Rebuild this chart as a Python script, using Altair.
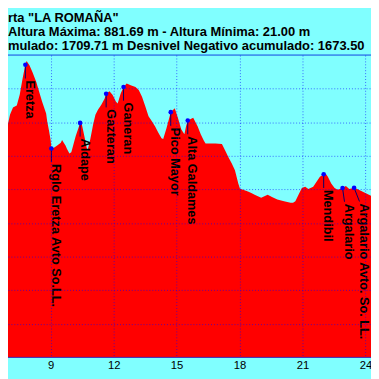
import altair as alt
import pandas as pd

# ---- elevation profile (km, m) ----
km = [6.59, 6.78, 7.06, 7.20, 7.38, 7.52, 7.66, 7.79, 7.85, 7.99,
      8.13, 8.31, 8.45, 8.59, 8.78, 8.83, 8.92, 9.00, 9.03, 9.15,
      9.29, 9.48, 9.54, 9.62, 9.71, 9.77, 9.89, 9.98, 10.09, 10.19,
      10.32, 10.40, 10.45, 10.55, 10.63, 10.71, 10.75, 10.87, 11.02, 11.13,
      11.25, 11.41, 11.57, 11.64, 11.80, 11.95, 12.11, 12.19, 12.33, 12.47,
      12.62, 12.81, 13.04, 13.20, 13.35, 13.51, 13.66, 13.82, 13.97, 14.13,
      14.28, 14.36, 14.52, 14.67, 14.72, 14.91, 15.06, 15.22, 15.37, 15.45,
      15.53, 15.79, 16.00, 16.15, 16.30, 16.38, 16.54, 16.85, 17.16, 17.32,
      17.47, 17.63, 17.78, 17.94, 18.02, 18.17, 18.40, 18.56, 18.72, 19.03,
      19.34, 19.57, 19.80, 20.12, 20.43, 20.55, 20.66, 20.81, 20.97, 21.13,
      21.28, 21.51, 21.67, 21.83, 22.01, 22.11, 22.21, 22.37, 22.53, 22.68,
      22.91, 23.07, 23.23, 23.46, 23.61, 23.85, 24.27]
elev = [610, 645, 723, 744, 750, 782, 831, 872, 882, 869,
        849, 820, 790, 761, 726, 703, 674, 645, 622, 624,
        630, 639, 647, 639, 630, 621, 607, 611, 636, 659,
        683, 698, 703, 674, 650, 625, 615, 645, 693, 722,
        737, 752, 771, 785, 792, 781, 761, 756, 785, 805,
        815, 810, 805, 795, 776, 747, 718, 703, 688, 669,
        652, 650, 683, 718, 730, 742, 713, 679, 664, 688,
        705, 713, 688, 664, 645, 637, 637, 637, 635, 615,
        596, 577, 557, 518, 502, 499, 494, 489, 484, 475,
        484, 477, 470, 465, 460, 460, 465, 484, 504, 508,
        501, 508, 523, 538, 545, 547, 538, 518, 504, 499,
        504, 510, 501, 505, 501, 494, 481]

# ---- waypoints ----
wp_names = ["Eretza", "Rglo Eretza Avto So.LL.", "Aldape", "Gazteran", "Ganeran",
            "Pico Mayor", "Alta Galdames", "Mendibil", "Argalario",
            "Argalario Avto. So. LL."]
wp_km = [7.79, 9.03, 10.40, 11.64, 12.47, 14.72, 15.53, 22.01, 22.91, 23.46]
wp_elev = [871, 622, 698, 785, 805, 730, 705, 545, 504, 505]

# ---- axis ticks / titles ----
x_ticks = [9, 12, 15, 18, 21, 24]
y_grid = [100, 200, 300, 400, 500, 600, 700, 800]
title_lines = ['rta "LA ROMAÑA"',
               'Altura Máxima: 881.69 m - Altura Mínima:  21.00 m',
               'mulado: 1709.71 m Desnivel Negativo acumulado: 1673.50']

# ---- layout ----
XMIN, XMAX = 6.962, 24.266
W, H = 371, 309
PX_PER_KM = W / (XMAX - XMIN)
PX_PER_M = H / 900.0
FONT = "Liberation Sans"
BG = "#80FFFF"

prof = pd.DataFrame({"km": km, "elev": elev})
wp = pd.DataFrame({"name": wp_names, "km": wp_km, "elev": wp_elev})

xs = alt.Scale(domain=[XMIN, XMAX], nice=False, zero=False)
ys = alt.Scale(domain=[0, 900], nice=False, zero=False)

xaxis = alt.Axis(values=x_ticks, grid=True, gridColor="#0000FF", gridOpacity=0.6,
                 gridDash=[1, 2], gridWidth=1, domain=False, ticks=False,
                 labelFont=FONT, labelFontSize=11.5, labelColor="#000000",
                 labelPadding=2, labelFlush=False, title=None, zindex=1)
yaxis = alt.Axis(values=y_grid, grid=True, gridColor="#0000FF", gridOpacity=0.6,
                 gridDash=[1, 2], gridWidth=1, domain=False, ticks=False,
                 labels=False, title=None, zindex=1)

X = alt.X("km:Q", scale=xs, axis=xaxis)
Y = alt.Y("elev:Q", scale=ys, axis=yaxis)

area = alt.Chart(prof).mark_area(color="#FF0000", clip=True).encode(
    x=X, y=Y, y2=alt.datum(0))

layers = [area]

LEAD_PX = 14   # leader line length
GAP_PX = 16    # distance from dot to start of label


def waypoint_layers(df, shift_px):
    base = alt.Chart(df).transform_calculate(
        km2=f"datum.km + {shift_px / PX_PER_KM}",
        e2=f"datum.elev - {LEAD_PX / PX_PER_M}",
        lkm=f"datum.km + {(shift_px + 4.4) / PX_PER_KM}",
        le=f"datum.elev - {GAP_PX / PX_PER_M}",
    )
    lead = base.mark_rule(color="#000070", strokeWidth=1).encode(
        x=X, y=Y, x2="km2:Q", y2="e2:Q")
    txt = base.mark_text(
        angle=90, align="left", baseline="middle",
        font=FONT, fontWeight="bold", fontSize=13, color="#000000",
    ).encode(x=alt.X("lkm:Q", scale=xs, axis=xaxis),
             y=alt.Y("le:Q", scale=ys, axis=yaxis), text="name:N")
    return [lead, txt]


layers += waypoint_layers(wp.iloc[:8], 0)
layers += waypoint_layers(wp.iloc[8:9], 2)
layers += waypoint_layers(wp.iloc[9:10], 5.5)

dots = alt.Chart(wp).mark_circle(color="#0000FF", size=22, opacity=1).encode(x=X, y=Y)
layers.append(dots)

top_border = alt.Chart(pd.DataFrame({"elev": [900]})).mark_rule(
    color="#1040E0", strokeWidth=1).encode(y=Y)
bottom_border = alt.Chart(pd.DataFrame({"elev": [0]})).mark_rule(
    color="#4020B0", strokeWidth=1).encode(y=Y)
layers += [top_border, bottom_border]

title_y = [-34, -19.7, -5.5]
for line, ty in zip(title_lines, title_y):
    layers.append(
        alt.Chart(pd.DataFrame({"t": [line]})).mark_text(
            align="left", baseline="alphabetic", font=FONT, fontWeight="bold",
            fontSize=13.2, color="#000000",
        ).encode(text="t:N", x=alt.value(0), y=alt.value(ty))
    )

chart = alt.layer(*layers).properties(
    width=W, height=H,
    padding={"left": 0, "right": 0, "top": 44, "bottom": 18},
    autosize=alt.AutoSizeParams(type="none"),
    background=BG,
).configure_view(stroke=None, fill=BG)

chart.save("out.html", embed_options={"renderer": "svg", "actions": False})
